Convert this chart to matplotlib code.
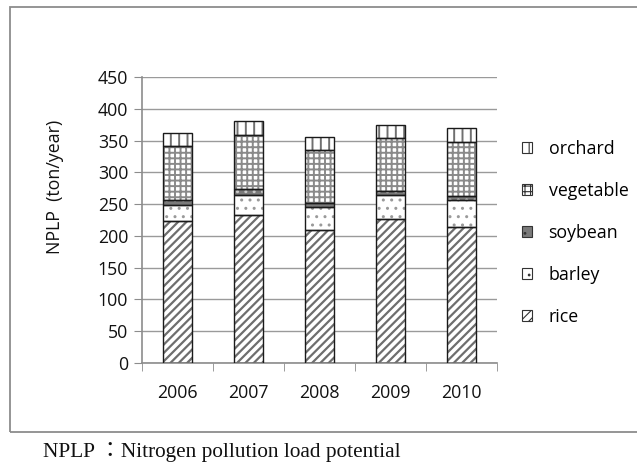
import matplotlib
matplotlib.use("Agg")
import matplotlib.pyplot as plt
from matplotlib.patches import Patch, Rectangle
import numpy as np

years = ["2006", "2007", "2008", "2009", "2010"]
rice = [223, 233, 210, 227, 214]
barley = [25, 32, 35, 38, 42]
soybean = [9, 8, 6, 5, 6]
vegetable = [84, 86, 84, 84, 86]
orchard = [21, 21, 21, 21, 21]
yticks = [0, 50, 100, 150, 200, 250, 300, 350, 400, 450]

series = [
    ("rice", rice, "white", "#6e6e6e", "////", 1.6),
    ("barley", barley, "white", "#9a9a9a", "..", 1.0),
    ("soybean", soybean, "#7a7a7a", "#c8c8c8", "..", 1.0),
    ("vegetable", vegetable, "white", "#8a8a8a", "+++", 1.4),
    ("orchard", orchard, "white", "#707070", "||", 1.4),
]

FONT = ["Open Sans", "DejaVu Sans"]
plt.rcParams["font.family"] = FONT
FS = 12.8

W, H = 637, 465
fig = plt.figure(figsize=(W / 100, H / 100), dpi=100)
ax = fig.add_axes([142 / W, 1 - 363 / H, (497 - 142) / W, (363 - 77) / H])

x = np.arange(len(years))
bottom = np.zeros(len(years))
bw = 0.4
for name, vals, fc, hc, hatch, hlw in series:
    plt.rcParams["hatch.linewidth"] = hlw
    bars = ax.bar(x, vals, bw, bottom=bottom, color=fc, edgecolor=hc, hatch=hatch,
                  linewidth=0, zorder=2)
    for b in bars:
        if hasattr(b, "set_hatch_linewidth"):
            b.set_hatch_linewidth(hlw)
    ax.bar(x, vals, bw, bottom=bottom, fill=False, edgecolor="#1a1a1a",
           linewidth=1.0, zorder=3)
    bottom = bottom + np.array(vals)

ax.set_xlim(-0.5, len(years) - 0.5)
ax.set_ylim(0, 450)
ax.set_yticks(yticks)
ax.set_yticklabels([str(v) for v in yticks], fontsize=FS, color="#111111")
ax.yaxis.grid(True, color="#9a9a9a", linewidth=1.0, zorder=0)
ax.set_axisbelow(True)

ax.set_xticks(x)
ax.set_xticklabels(years, fontsize=FS, color="#111111")
ax.set_xticks(np.arange(-0.5, len(years)), minor=True)
ax.tick_params(axis="x", which="major", length=0, pad=15)
ax.tick_params(axis="x", which="minor", length=6, color="#8c8c8c", direction="out")
ax.tick_params(axis="y", length=6, color="#8c8c8c", direction="out", pad=4)

for s in ["top", "right"]:
    ax.spines[s].set_visible(False)
for s in ["left", "bottom"]:
    ax.spines[s].set_color("#8c8c8c")
    ax.spines[s].set_linewidth(1.2)

fig.text(55 / W, 1 - 187 / H, "NPLP  (ton/year)", rotation=90, ha="center",
         va="center", fontsize=FS, color="#111111")

plt.rcParams["hatch.linewidth"] = 0.8
handles = []
for name, vals, fc, hc, hatch, hlw in reversed(series):
    handles.append(Patch(facecolor=fc, edgecolor="#333333", hatch=hatch,
                         linewidth=0.8, label=name))
leg = fig.legend(handles=handles, loc="center left",
                 bbox_to_anchor=(513 / W, 1 - 233 / H), frameon=False,
                 fontsize=FS, handlelength=0.55, handleheight=0.55,
                 handletextpad=0.95, labelspacing=1.35, borderpad=0)

fig.patches.append(Rectangle((10 / W, 33 / H), 1.2, (432 - 7) / H,
                             transform=fig.transFigure, fill=False,
                             edgecolor="#8c8c8c", linewidth=1.3, clip_on=False))

fig.text(43 / W, 13 / H, "NPLP ：Nitrogen pollution load potential",
         family=["Liberation Serif", "Noto Sans CJK JP"], fontsize=15.3,
         ha="left", va="center", color="#111111")

fig.savefig("out.png", dpi=100)
